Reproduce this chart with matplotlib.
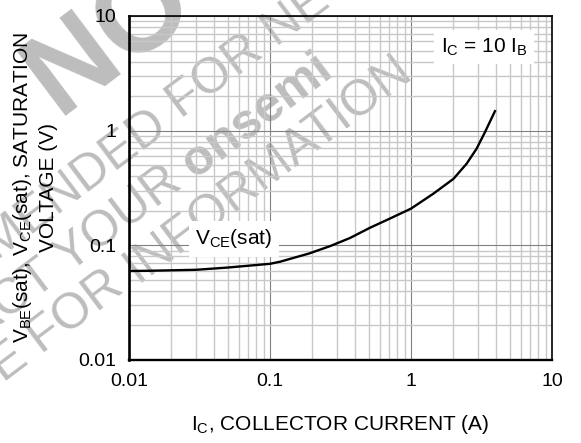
import numpy as np
import matplotlib
matplotlib.use('Agg')
import matplotlib.pyplot as plt
from matplotlib.ticker import NullFormatter

plt.rcParams['font.family'] = 'Liberation Sans'
plt.rcParams['mathtext.fontset'] = 'custom'
plt.rcParams['mathtext.rm'] = 'Liberation Sans'
plt.rcParams['mathtext.it'] = 'Liberation Sans:italic'

# V_CE(sat) vs I_C
ic = [0.01, 0.014, 0.03, 0.05, 0.1, 0.118, 0.19, 0.27, 0.37, 0.51, 0.7,
      1.0, 1.44, 2.0, 2.48, 2.92, 3.35, 3.94]
vce = [0.0597, 0.060, 0.0612, 0.064, 0.069, 0.072, 0.085, 0.099, 0.116, 0.142, 0.17,
       0.209, 0.282, 0.38, 0.515, 0.697, 0.973, 1.48]

xticks = [0.01, 0.1, 1, 10]
xtick_labels = ['0.01', '0.1', '1', '10']
yticks = [0.01, 0.1, 1, 10]
ytick_labels = ['0.01', '0.1', '1', '10']

W, H = 581, 443


def px(x, y):
    return x / W, 1 - y / H


fig = plt.figure(figsize=(W / 100, H / 100), dpi=100)
fig.patch.set_facecolor('white')
ax = fig.add_axes([129 / W, 1 - 360 / H, 423 / W, 344 / H])
ax.patch.set_alpha(0)

ax.plot(ic, vce, color='black', lw=1.7, zorder=3)
ax.set_xscale('log')
ax.set_yscale('log')
ax.set_xlim(0.01, 10)
ax.set_ylim(0.01, 10)
ax.set_xticks(xticks)
ax.set_xticklabels(xtick_labels)
ax.set_yticks(yticks)
ax.set_yticklabels(ytick_labels)
ax.xaxis.set_minor_formatter(NullFormatter())
ax.yaxis.set_minor_formatter(NullFormatter())
ax.tick_params(which='both', length=0, labelsize=14, pad=9)
ax.grid(which='minor', color='#c8c8c8', lw=1.0)
ax.grid(which='major', color='#808080', lw=0.8)
ax.set_axisbelow(True)
ax.spines['left'].set_linewidth(1.9)
ax.spines['bottom'].set_linewidth(1.7)
ax.spines['top'].set_linewidth(1.2)
ax.spines['right'].set_linewidth(1.2)

ax.text(0.8395, 0.91, r'I$_{\mathregular{C}}$ = 10 I$_{\mathregular{B}}$', transform=ax.transAxes,
        ha='center', va='center', fontsize=15, zorder=4,
        bbox=dict(boxstyle='square,pad=0.3', fc='white', ec='none'))
ax.text(0.248, 0.352, r'V$_{\mathregular{CE}}$(sat)', transform=ax.transAxes,
        ha='center', va='center', fontsize=15, zorder=4,
        bbox=dict(boxstyle='square,pad=0.3', fc='white', ec='none'))

fig.text(*px(340, 424), r'I$_{\mathregular{C}}$, COLLECTOR CURRENT (A)',
         ha='center', va='center', fontsize=15)
fig.text(*px(23, 188), r'V$_{\mathregular{BE}}$(sat), V$_{\mathregular{CE}}$(sat), SATURATION',
         ha='center', va='center', rotation=90, fontsize=15)
fig.text(*px(49, 188), 'VOLTAGE (V)', ha='center', va='center', rotation=90, fontsize=15)

# watermark
ang = 37
wm = dict(color='#bdbdbd', rotation=ang, rotation_mode='anchor', va='baseline', zorder=-1)
fig.text(*px(58, 116), 'NOT', ha='left', fontsize=85, fontweight='bold', **wm)
fig.text(*px(170, 127), 'RECOMMENDED', ha='right', fontsize=36, **wm)
fig.text(*px(181, 119), 'FOR NEW DESIGN', ha='left', fontsize=36, **wm)
fig.text(*px(184, 187), 'CONTACT YOUR', ha='right', fontsize=36, **wm)
fig.text(*px(195, 179), 'onsemi', ha='left', fontsize=36, fontweight='bold', **wm)
fig.text(*px(126, 291), 'REPRESENTATIVE FOR', ha='right', fontsize=36, **wm)
fig.text(*px(137, 283), 'INFORMATION', ha='left', fontsize=36, **wm)

fig.savefig('out.png', dpi=100, facecolor='white')
